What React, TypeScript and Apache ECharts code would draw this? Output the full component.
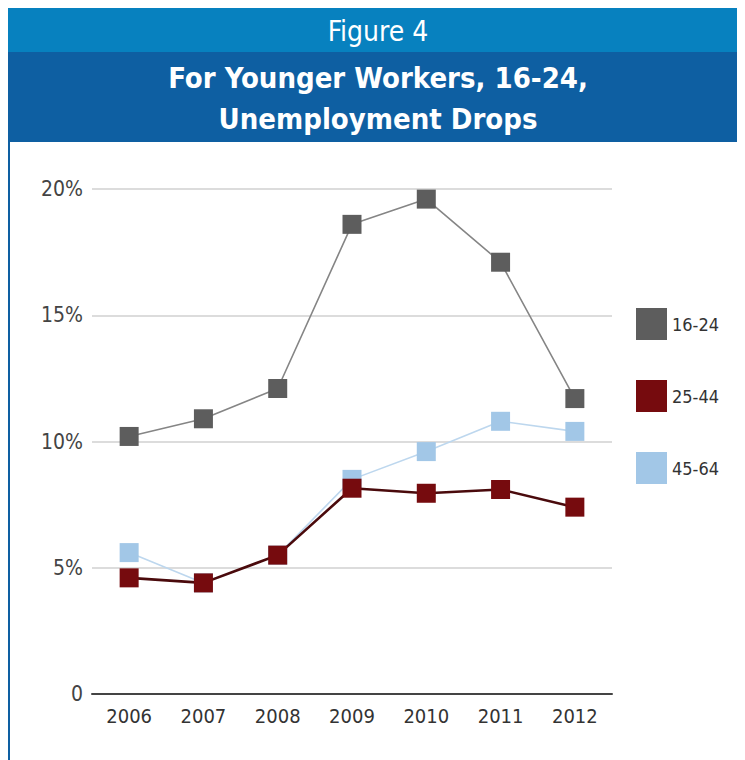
import React, { useEffect, useRef } from "react";
import * as echarts from "echarts";

const years = ["2006", "2007", "2008", "2009", "2010", "2011", "2012"];
const age16to24 = [10.2, 10.9, 12.1, 18.6, 19.6, 17.1, 11.7];
const age25to44 = [4.6, 4.4, 5.5, 8.15, 7.95, 8.1, 7.4];
const age45to64 = [5.6, 4.4, 5.5, 8.5, 9.6, 10.8, 10.4];
const seriesNames = ["16-24", "25-44", "45-64"];
const yTicks = [0, 5, 10, 15, 20];
const figureLabel = "Figure 4";
const titleLines = ["For Younger Workers, 16-24,", "Unemployment Drops"];

const NARROW = "'Liberation Sans Narrow', 'DejaVu Sans Condensed', 'Open Sans', sans-serif";

export default function App() {
  const ref = useRef<HTMLDivElement>(null);
  useEffect(() => {
    if (!ref.current) return;
    const chart = echarts.init(ref.current, null, { renderer: "svg" });
    chart.setOption({
      animation: false,
      backgroundColor: "#ffffff",
      graphic: [
        { type: "rect", shape: { x: 0, y: 0, width: 737, height: 44 }, style: { fill: "#0781bf" } },
        { type: "rect", shape: { x: 0, y: 44, width: 737, height: 90 }, style: { fill: "#0e5fa2" } },
        { type: "rect", shape: { x: 0, y: 134, width: 2, height: 618 }, style: { fill: "#0e5fa2" } },
        {
          type: "text", x: 370, y: 23,
          style: { text: figureLabel, fill: "#ffffff", font: `400 28px ${NARROW}`, align: "center", verticalAlign: "middle" },
        },
        {
          type: "text", x: 370, y: 70,
          style: { text: titleLines[0], fill: "#ffffff", font: `bold 29px ${NARROW}`, align: "center", verticalAlign: "middle" },
        },
        {
          type: "text", x: 370, y: 111,
          style: { text: titleLines[1], fill: "#ffffff", font: `bold 29px ${NARROW}`, align: "center", verticalAlign: "middle" },
        },
      ],
      grid: { left: 84, right: 133, top: 181, bottom: 66 },
      legend: {
        orient: "vertical",
        left: 623,
        top: 295,
        icon: "rect",
        itemWidth: 31,
        itemHeight: 32,
        itemGap: 40,
        data: seriesNames,
        textStyle: { color: "#333333", fontSize: 18, fontFamily: NARROW },
      },
      xAxis: {
        type: "category",
        data: years,
        boundaryGap: true,
        axisLine: { lineStyle: { color: "#444444", width: 2 } },
        axisTick: { show: false },
        axisLabel: { color: "#333333", fontSize: 20, fontFamily: NARROW, margin: 12 },
      },
      yAxis: {
        type: "value",
        min: yTicks[0],
        max: yTicks[yTicks.length - 1],
        interval: 5,
        axisLine: { show: false },
        axisTick: { show: false },
        splitLine: { lineStyle: { color: "#dcdcdc", width: 2 } },
        axisLabel: {
          color: "#444444",
          fontSize: 21,
          fontFamily: NARROW,
          margin: 9,
          formatter: (v: number) => (v === 0 ? "0" : `${v}%`),
        },
      },
      series: [
        {
          name: seriesNames[0],
          type: "line",
          data: age16to24,
          symbol: "rect",
          symbolSize: 19,
          itemStyle: { color: "#5d5d5d" },
          lineStyle: { color: "#858585", width: 1.6 },
          z: 2,
        },
        {
          name: seriesNames[2],
          type: "line",
          data: age45to64,
          symbol: "rect",
          symbolSize: 19,
          itemStyle: { color: "#a2c7e7" },
          lineStyle: { color: "#bdd7ee", width: 1.6 },
          z: 3,
        },
        {
          name: seriesNames[1],
          type: "line",
          data: age25to44,
          symbol: "rect",
          symbolSize: 19,
          itemStyle: { color: "#760b0e" },
          lineStyle: { color: "#4a0a0c", width: 2.6 },
          z: 4,
        },
      ],
    });
    return () => chart.dispose();
  }, []);
  return <div ref={ref} style={{ width: 737, height: 752 }} />;
}
